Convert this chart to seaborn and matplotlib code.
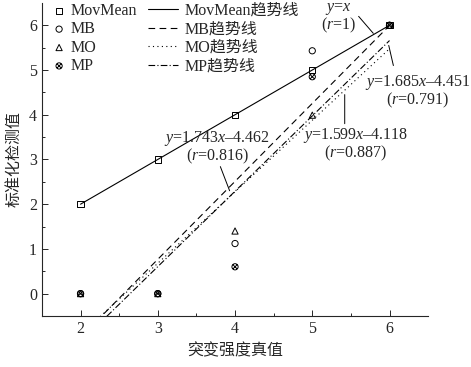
import numpy as np
import pandas as pd
import seaborn as sns
import matplotlib.pyplot as plt
from matplotlib.path import Path

# values
true_strength = [2, 3, 4, 5, 6]
movmean = [2, 3, 4, 5, 6]
mb = [0, 0, 1.12, 5.43, 6]
mo = [0, 0, 1.40, 3.99, 6]
mp = [0, 0, 0.60, 4.85, 6]

# trend lines (slope, intercept) as printed on the chart
trend_names = ['MovMean趋势线', 'MB趋势线', 'MO趋势线', 'MP趋势线']
trend_slope = [1.0, 1.743, 1.599, 1.685]
trend_icpt = [0.0, -4.462, -4.118, -4.451]

FS = 11.5

sns.set_style("ticks")
plt.rcParams['font.family'] = ['Liberation Serif', 'Noto Sans CJK SC']
plt.rcParams['mathtext.fontset'] = 'custom'
plt.rcParams['mathtext.rm'] = 'Liberation Serif'
plt.rcParams['mathtext.it'] = 'Liberation Serif:italic'
plt.rcParams['font.size'] = FS

fig = plt.figure(figsize=(4.71, 3.67), dpi=100)
ax = fig.add_axes([0.089, 0.139, 0.82, 0.853])

# circle with a cross inside, for MP
circ = Path.unit_circle()
cross = Path.make_compound_path(
    circ,
    Path([[-0.7, -0.7], [0.7, 0.7]]),
    Path([[-0.7, 0.7], [0.7, -0.7]]),
)

series = [('MovMean', movmean, 's'), ('MB', mb, 'o'),
          ('MO', mo, '^'), ('MP', mp, cross)]
for name, vals, mk in series:
    sns.scatterplot(x=true_strength, y=vals, marker=mk, s=20,
                    color='black', facecolor='none', edgecolor='black',
                    linewidth=0.7, label=name, ax=ax, zorder=3)

styles = ['-', (0, (6, 4)), (0, (1, 3)), (0, (6, 2, 1, 2))]
xs = np.array([true_strength[0], true_strength[-1]], dtype=float)
for name, k, b, ls in zip(trend_names, trend_slope, trend_icpt, styles):
    sns.lineplot(x=xs, y=k * xs + b, color='black', linewidth=0.8,
                 linestyle=ls, label=name, ax=ax)

handles, labels = ax.get_legend_handles_labels()
leg1 = ax.legend(handles[:4], labels[:4], loc='upper left',
                 bbox_to_anchor=(0.03, 1.0), frameon=False, borderpad=0,
                 borderaxespad=0, handlelength=0.7, handletextpad=0.4,
                 labelspacing=0.15, scatterpoints=1, fontsize=FS)
ax.add_artist(leg1)
ax.legend(handles[4:], labels[4:], loc='upper left',
          bbox_to_anchor=(0.275, 1.0), frameon=False, borderpad=0,
          borderaxespad=0, handlelength=1.9, handletextpad=0.4,
          labelspacing=0.15, fontsize=FS)

# equation labels with leader lines
notes = [
    (r'$y$=$x$' + '\n(' + r'$r$' + '=1)', (5.34, 6.16), (5.6, 6.2), (5.79, 5.82)),
    (r'$y$=1.743$x$–4.462' + '\n(' + r'$r$' + '=0.816)', (3.77, 3.27), (3.81, 2.84), (3.93, 2.3)),
    (r'$y$=1.599$x$–4.118' + '\n(' + r'$r$' + '=0.887)', (5.56, 3.33), (5.42, 4.45), (5.42, 3.8)),
    (r'$y$=1.685$x$–4.451' + '\n(' + r'$r$' + '=0.791)', (6.37, 4.52), (5.99, 5.55), (6.05, 5.1)),
]
for txt, pos, p0, p1 in notes:
    ax.text(pos[0], pos[1], txt, ha='center', va='center',
            linespacing=0.95, fontsize=FS, clip_on=False)
    ax.annotate('', xy=p1, xytext=p0,
                arrowprops=dict(arrowstyle='-', color='black', lw=0.7,
                                shrinkA=0, shrinkB=0))

ax.set_xlim(1.5, 6.5)
ax.set_ylim(-0.5, 6.5)
ax.set_xticks([2, 3, 4, 5, 6])
ax.set_yticks([0, 1, 2, 3, 4, 5, 6])
ax.set_xticks(np.arange(2.5, 6.5, 1.0), minor=True)
ax.set_yticks(np.arange(-0.5, 6.5, 1.0)[1:], minor=True)
ax.tick_params(direction='in', length=4, width=0.7, labelsize=FS)
ax.tick_params(which='minor', direction='in', length=2.5, width=0.7)
sns.despine(ax=ax)
for sp in ['left', 'bottom']:
    ax.spines[sp].set_linewidth(0.8)
ax.set_xlabel('突变强度真值', fontsize=FS, labelpad=5)
ax.set_ylabel('标准化检测值', fontsize=FS, labelpad=5)

fig.savefig('out.png', dpi=100)
